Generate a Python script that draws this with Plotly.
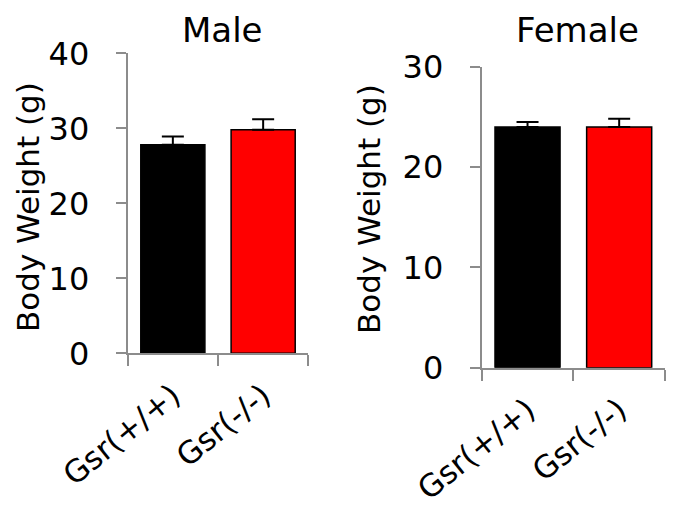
import plotly.graph_objects as go

categories = ["Gsr(+/+)", "Gsr(-/-)"]
male_weight = [27.8, 29.8]
male_sem = [1.1, 1.4]
female_weight = [24.0, 24.0]
female_sem = [0.5, 0.8]
bar_colors = ["#000000", "#ff0000"]
male_ticks = [0, 10, 20, 30, 40]
female_ticks = [0, 10, 20, 30]
panel_titles = ["Male", "Female"]
y_title = "Body Weight (g)"

FONT = "DejaVu Sans"
AX = "#8c8c8c"
W, H, OFF = 675, 514, 8  # page body offset


def px_x(v):
    return (v - OFF) / W


def px_y(v):
    return 1 - (v - OFF) / H


fig = go.Figure()
for i, (vals, sem) in enumerate([(male_weight, male_sem), (female_weight, female_sem)]):
    suffix = "" if i == 0 else "2"
    fig.add_trace(go.Bar(
        x=categories, y=vals, xaxis="x" + suffix, yaxis="y" + suffix,
        marker=dict(color=bar_colors, line=dict(color="#000000", width=1.5)),
        error_y=dict(type="data", array=sem, arrayminus=[0] * len(sem), symmetric=False,
                     color="#000000", thickness=2, width=11),
        showlegend=False,
    ))


def xax(domain, anchor):
    return dict(domain=domain, anchor=anchor, showline=True, linecolor=AX, linewidth=2,
                ticks="outside", tickson="boundaries", ticklen=11, tickcolor=AX, tickwidth=2,
                tickangle=-39, tickfont=dict(family=FONT, size=31, color="#000000"),
                showgrid=False, zeroline=False, ticklabelstandoff=10, automargin=False)


def yax(domain, anchor, rng, tv):
    return dict(domain=domain, anchor=anchor, range=rng, tickvals=tv, showline=True,
                linecolor=AX, linewidth=2, ticks="outside", ticklen=10, tickcolor=AX,
                tickwidth=2, tickfont=dict(family=FONT, size=32, color="#000000"),
                showgrid=False, zeroline=False, ticklabelstandoff=20, automargin=False)


fig.update_layout(
    width=W, height=H, margin=dict(l=0, r=0, t=0, b=0),
    paper_bgcolor="white", plot_bgcolor="white", bargap=0.29, showlegend=False,
    xaxis=xax([px_x(127.7), px_x(308.3)], "y"),
    yaxis=yax([px_y(353.3), px_y(53.3)], "x", [0, 40], male_ticks),
    xaxis2=xax([px_x(481.7), px_x(665)], "y2"),
    yaxis2=yax([px_y(367.7), px_y(66.7)], "x2", [0, 30], female_ticks),
    annotations=[
        dict(text=panel_titles[0], x=px_x(222), y=1, xref="paper", yref="paper",
             showarrow=False, xanchor="center", yanchor="top",
             font=dict(family=FONT, size=34, color="#000000")),
        dict(text=panel_titles[1], x=px_x(577), y=1, xref="paper", yref="paper",
             showarrow=False, xanchor="center", yanchor="top",
             font=dict(family=FONT, size=34, color="#000000")),
        dict(text=y_title, x=0, y=px_y(207), xref="paper", yref="paper",
             showarrow=False, xanchor="left", yanchor="middle", textangle=-90,
             font=dict(family=FONT, size=31, color="#000000")),
        dict(text=y_title, x=px_x(369), y=px_y(209), xref="paper", yref="paper",
             showarrow=False, xanchor="center", yanchor="middle", textangle=-90,
             font=dict(family=FONT, size=31, color="#000000")),
    ],
)

fig.write_html("out.html")
